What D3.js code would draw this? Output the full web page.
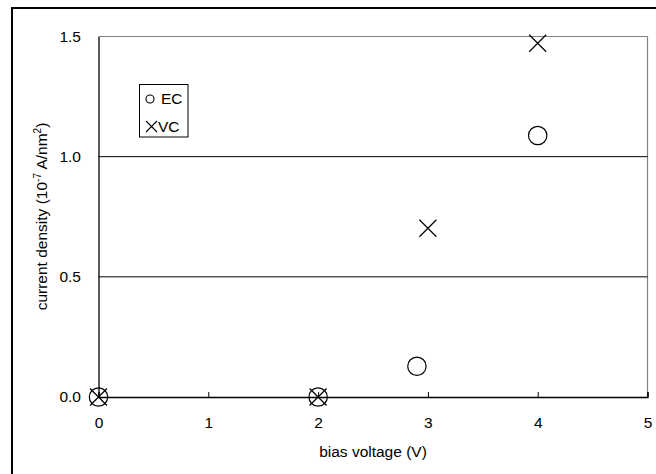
<!DOCTYPE html>
<html><head><meta charset="utf-8">
<script src="https://cdn.jsdelivr.net/npm/d3@7"></script>
<style>body{margin:0;background:#fff}svg{display:block}text{font-family:"Liberation Sans",Arial,sans-serif;fill:#000}</style>
</head><body>
<script>
const ecX = [0, 2, 2.9, 4];
const ecY = [0, 0, 0.128, 1.088];
const vcX = [0, 2, 3, 4];
const vcY = [0, 0, 0.702, 1.472];
const xTicks = [0, 1, 2, 3, 4, 5];
const yTicks = [0, 0.5, 1.0, 1.5];
const seriesNames = ["EC", "VC"];

const W = 656, H = 474;
const FS = 15.5;
const svg = d3.select("body").append("svg").attr("width", W).attr("height", H);
const x = d3.scaleLinear().domain([0, 5]).range([98.5, 647.5]);
const y = d3.scaleLinear().domain([0, 1.5]).range([397, 36.5]);

// outer frame
svg.append("rect").attr("x", 12).attr("y", 8).attr("width", W).attr("height", H)
  .attr("fill", "none").attr("stroke", "#000").attr("stroke-width", 2);

// plot area border (right side)
svg.append("line").attr("x1", x(5)).attr("x2", x(5)).attr("y1", y(1.5)).attr("y2", y(0))
  .attr("stroke", "#808080").attr("stroke-width", 1.2);

// gridlines
svg.append("g").selectAll("line").data(yTicks.filter(d => d > 0)).join("line")
  .attr("x1", x(0)).attr("x2", x(5)).attr("y1", d => y(d)).attr("y2", d => y(d))
  .attr("stroke", d => d === 1.5 ? "#808080" : "#000").attr("stroke-width", 1);

// x axis
const xAxis = d3.axisBottom(x).tickValues(xTicks).tickSize(-5).tickPadding(20).tickFormat(d3.format("d"));
const gx = svg.append("g").attr("transform", `translate(0,${y(0)})`).call(xAxis);
gx.select(".domain").attr("stroke", "#000").attr("stroke-width", 1.3);
gx.selectAll(".tick line").attr("stroke", "#000");
gx.selectAll("text").attr("font-size", FS).attr("font-family", "Liberation Sans, Arial, sans-serif");

// y axis
const yAxis = d3.axisLeft(y).tickValues(yTicks).tickSize(0).tickPadding(17.5).tickFormat(d3.format(".1f"));
const gy = svg.append("g").attr("transform", `translate(${x(0)},0)`).call(yAxis);
gy.select(".domain").attr("stroke", "#000").attr("stroke-width", 1.3);
gy.selectAll("text").attr("font-size", FS).attr("font-family", "Liberation Sans, Arial, sans-serif");

// axis titles
svg.append("text").attr("x", 373).attr("y", 457).attr("text-anchor", "middle")
  .attr("font-size", FS).text("bias voltage (V)");
const yt = svg.append("text").attr("transform", "translate(47,216.5) rotate(-90)")
  .attr("text-anchor", "middle").attr("font-size", FS);
yt.append("tspan").text("current density (10");
yt.append("tspan").attr("dy", -6).attr("font-size", 10).text("-7");
yt.append("tspan").attr("dy", 6).text(" A/nm");
yt.append("tspan").attr("dy", -6).attr("font-size", 10).text("2");
yt.append("tspan").attr("dy", 6).text(")");

// markers
const ec = ecX.map((v, i) => ({x: v, y: ecY[i]}));
const vc = vcX.map((v, i) => ({x: v, y: vcY[i]}));
svg.append("g").selectAll("circle").data(ec).join("circle")
  .attr("cx", d => x(d.x)).attr("cy", d => y(d.y)).attr("r", 9.2)
  .attr("fill", "none").attr("stroke", "#000").attr("stroke-width", 1.2);
svg.append("g").selectAll("path").data(vc).join("path")
  .attr("transform", d => `translate(${x(d.x)},${y(d.y)})`)
  .attr("d", () => {
    const s = 8.5;
    return `M${-s},${-s}L${s},${s}M${-s},${s}L${s},${-s}`;
  })
  .attr("fill", "none").attr("stroke", "#000").attr("stroke-width", 1.2);

// legend
const lg = svg.append("g");
lg.append("rect").attr("x", 139.5).attr("y", 84.5).attr("width", 48.5).attr("height", 52.5)
  .attr("fill", "#fff").attr("stroke", "#000").attr("stroke-width", 1);
lg.append("circle").attr("cx", 150).attr("cy", 99).attr("r", 4)
  .attr("fill", "none").attr("stroke", "#000").attr("stroke-width", 1.1);
lg.append("path").attr("d", "M146,121L157,132M146,132L157,121")
  .attr("fill", "none").attr("stroke", "#000").attr("stroke-width", 1.1);
lg.selectAll("text").data(seriesNames).join("text")
  .attr("x", (d, i) => i === 0 ? 161 : 158).attr("y", (d, i) => 104 + i * 28)
  .attr("font-size", FS).text(d => d);
</script>
</body></html>
